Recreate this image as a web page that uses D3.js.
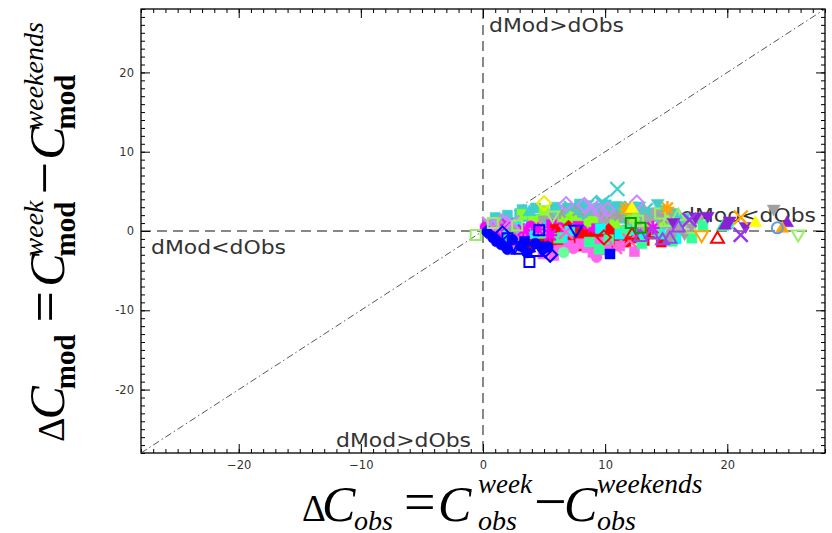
<!DOCTYPE html>
<html><head><meta charset="utf-8">
<script src="https://cdn.jsdelivr.net/npm/d3@7"></script>
<style>body{margin:0;background:#fff}svg{display:block}</style>
</head><body>
<svg id="c" width="832" height="533"></svg>
<script>
// ---------- data ----------
const axisDomain = [-28, 28];
const xTicksMajor = [-20, -10, 0, 10, 20];
const yTicksMajor = [-20, -10, 0, 10, 20];
const annotationTexts = ["dMod>dObs", "dMod<dObs", "dMod>dObs", "dMod<dObs"];

const turqSqObs = [0.5,1.6,2.7,3.5,4.6,5.4,6.2,7.1,8.0,8.9,9.7,10.5,11.4,12.3,13.2,14.0,15.0,4.0,6.7,9.2,3.0,7.6,11.9,1.0,2.2,5.0,13.5,2.0,3.2,4.3,5.9,6.9,8.4,9.4,10.1,11.0,12.8,14.6,15.6,16.5,7.9,10.9];
const turqSqMod = [0.8,1.3,1.1,1.8,1.5,2.0,1.4,2.2,1.7,2.4,1.9,2.6,1.6,2.1,1.3,1.8,1.0,0.9,1.0,1.2,2.2,2.6,2.8,1.7,0.5,1.1,2.3,2.0,2.7,2.9,3.0,2.9,3.2,2.9,3.3,3.1,2.9,2.6,2.2,1.6,3.4,2.2];
const grayObs = [4.5,5.8,6.9,7.7,8.6,9.4,10.2,11.1,12.0,12.9,13.7,14.6,15.4,9.0,11.5,10.6,8.1,13.2,16.0,5.2,6.1,7.3,8.8,10.0,11.8,13.0,14.1,15.0,12.5,9.6,7.0,16.8,17.6];
const grayMod = [1.2,0.9,1.7,1.1,2.0,1.4,1.0,1.8,1.3,0.7,1.5,0.6,-0.2,0.2,0.1,1.9,1.4,2.0,0.2,2.1,1.5,2.4,2.7,2.8,2.5,2.7,2.3,1.8,3.0,0.7,0.4,1.0,1.6];
const limeObs = [2.3,4.1,5.8,7.4,9.0,10.8,12.4,13.6,8.2,6.6,1.2,3.2,11.5,14.8,5.0];
const limeMod = [0.6,1.4,0.5,1.9,1.2,0.8,1.6,0.3,1.0,1.6,1.1,2.1,2.2,1.2,2.6];
const magCircObs = [1.6,2.6,3.9,5.1,6.3,7.2,8.1,9.8,11.0,12.4,0.6,4.5,6.9,2.2,3.4,5.6,7.8,8.9,10.5,0.2,1.0];
const magCircMod = [0.2,-0.5,0.6,-0.2,0.4,-0.7,0.1,-0.5,-1.1,-0.2,-0.2,-0.9,-0.3,-1.1,-0.2,-1.2,-1.2,-0.2,-1.5,0.5,-0.7];
const magAstObs = [0.4,1.2,2.0,4.5,5.5,13.9,3.3];
const magAstMod = [0.3,-0.4,0.8,0.2,-0.5,0.4,0.1];
const magSqObs = [7.8,9.3,5.6];
const magSqMod = [0.6,0.3,0.8];
const redSqObs = [2.6,3.4,4.7,5.5,6.6,7.4,8.2,9.3,10.5,11.7,12.5,5.9,7.8,9.0,4.1,6.2,8.7,10.0,13.2,3.0,3.8,5.1,6.0,7.0,8.0,9.8,11.0,12.0,13.8,14.6];
const redSqMod = [-0.4,-1.0,-0.7,-1.4,-0.9,-1.5,-0.5,-1.2,-0.7,-1.4,-0.9,0.2,-0.2,-1.7,-1.6,-1.9,-1.0,-1.5,-1.2,0.3,-2.1,-1.0,-1.2,-2.0,-1.9,-2.2,-1.8,-0.2,-0.4,-1.4];
const redDiaObs = [9.6,10.3,11.3,8.8,7.0];
const redDiaMod = [-0.3,0.1,-0.8,-0.9,0.5];
const redOpenTriObs = [19.2,12.2];
const redOpenTriMod = [-0.9,-0.4];
const redOpenDiaObs = [9.9];
const redOpenDiaMod = [-0.8];
const pinkCircObs = [9.3,5.9,7.4,3.1];
const pinkCircMod = [-3.3,-2.5,-2.2,-0.6];
const pinkSqObs = [7.0,8.5,9.5,6.4,8.0,11.2,4.9,5.8,9.0,10.1,12.4,2.3];
const pinkSqMod = [-1.8,-2.1,-1.4,-2.4,-1.6,-1.9,-2.9,-3.1,-2.7,-2.4,-2.6,-1.5];
const pinkXObs = [10.8,12.0,6.8,1.0];
const pinkXMod = [-2.0,-1.2,-0.1,0.5];
const blueCircObs = [1.1,1.5,2.4,3.1,4.3,0.8,2.0,3.6,5.3];
const blueCircMod = [-1.3,-1.7,-1.1,-1.9,-1.6,-0.8,-2.3,-2.7,-2.0];
const blueOpenTriObs = [3.7,4.3,2.9];
const blueOpenTriMod = [-2.0,-2.6,-2.3];
const blueOpenSqObs = [3.8,4.6,2.0];
const blueOpenSqMod = [-3.9,0.1,-0.9];
const blueOpenDiaObs = [5.5,5.1,1.6];
const blueOpenDiaMod = [-3.0,-2.4,-0.3];
const blueSqObs = [10.4,3.4];
const blueSqMod = [-2.9,-1.3];
const blueDiaObs = [4.9,0.3];
const blueDiaMod = [-2.1,-0.1];
const blueOpenTriDnObs = [7.6,2.6];
const blueOpenTriDnMod = [0.1,-2.0];
const cyanObs = [3.0,6.5,13.0,15.8,14.5,2.0,12.2,1.4,4.2,7.1,9.6,11.2,0.7];
const cyanMod = [0.4,-0.8,-0.9,-1.0,-0.4,-0.7,0.1,0.0,-0.3,0.0,0.3,-0.4,0.6];
const turqXObs = [11.0,8.5,9.8,7.2,13.3];
const turqXMod = [5.3,3.1,3.6,2.9,2.6];
const turqOpenDiaObs = [10.0,11.6,8.2,9.2];
const turqOpenDiaMod = [3.2,2.8,2.4,3.4];
const turqTriDnObs = [14.3,12.8,16.2,6.0,10.7];
const turqTriDnMod = [3.4,3.1,1.3,2.7,3.0];
const turqTriObs = [1.8,3.8];
const turqTriMod = [1.6,2.5];
const grayAstObs = [11.2,6.3,14.7,7.8,9.9];
const grayAstMod = [2.0,2.4,1.6,2.6,2.3];
const grayTriDnObs = [23.8,17.1,16.5];
const grayTriDnMod = [2.7,0.6,-0.4];
const grayDiaObs = [15.3,2.4];
const grayDiaMod = [-0.6,0.2];
const lgOpenSqObs = [-0.6,2.8,12.7,17.0,14.5,0.8];
const lgOpenSqMod = [-0.5,0.7,1.3,0.4,2.2,1.0];
const lgOpenTriDnObs = [25.8,5.7];
const lgOpenTriDnMod = [-0.5,1.9];
const lgOpenTriObs = [16.0,15.1];
const lgOpenTriMod = [2.0,1.2];
const sgSqObs = [20.1,17.1,14.2,8.7,4.8,11.7,6.2,18.0,10.3,13.0,15.5,9.5];
const sgSqMod = [0.9,-0.9,0.0,-1.4,-0.3,0.0,-0.9,0.7,-1.1,-1.6,-1.3,-2.3];
const sgTriObs = [19.6];
const sgTriMod = [0.6];
const sgCircObs = [6.6];
const sgCircMod = [-2.7];
const purTriDnObs = [18.4,21.5,15.6,20.2,17.4];
const purTriDnMod = [1.8,0.5,1.0,1.2,1.7];
const purTriObs = [24.9,19.8];
const purTriMod = [1.1,0.8];
const purXObs = [21.1,16.9];
const purXMod = [-0.5,1.4];
const purOpenTriObs = [14.7,13.8,16.0,12.9,15.3];
const purOpenTriMod = [-1.1,-0.3,0.5,-0.7,-0.9];
const orAstObs = [15.1,11.7];
const orAstMod = [2.9,2.8];
const orXObs = [21.1];
const orXMod = [1.7];
const orOpenTriDnObs = [17.9];
const orOpenTriDnMod = [-0.6];
const orTriObs = [24.5];
const orTriMod = [0.4];
const yelTriObs = [22.3,12.2];
const yelTriMod = [1.1,2.9];
const yelOpenDiaObs = [5.0];
const yelOpenDiaMod = [3.5];
const lbOpenCircObs = [24.1];
const lbOpenCircMod = [0.4];
const dgOpenSqObs = [12.1,12.9];
const dgOpenSqMod = [1.0,0.4];
const vioOpenDiaObs = [8.3,10.2,9.6,1.5,6.8,12.6];
const vioOpenDiaMod = [3.3,2.7,2.4,1.2,3.4,3.6];
const vioXObs = [8.9,0.5,2.4];
const vioXMod = [3.0,0.9,1.1];

// ---------- series table (data + style) ----------
const series = [
  {obs: turqSqObs, mod: turqSqMod, color: "#3fcfcf", shape: "square", fill: true},
  {obs: grayObs, mod: grayMod, color: "#a6a6a6", shape: "circle", fill: true},
  {obs: limeObs, mod: limeMod, color: "#88ff22", shape: "square", fill: true},
  {obs: turqTriObs, mod: turqTriMod, color: "#3fcfcf", shape: "tri", fill: true},
  {obs: magCircObs, mod: magCircMod, color: "#ff00ff", shape: "circle", fill: true},
  {obs: magSqObs, mod: magSqMod, color: "#ff00ff", shape: "square", fill: true},
  {obs: redSqObs, mod: redSqMod, color: "#ff0000", shape: "square", fill: true},
  {obs: redDiaObs, mod: redDiaMod, color: "#ff0000", shape: "diamond", fill: true},
  {obs: pinkSqObs, mod: pinkSqMod, color: "#ff66ee", shape: "square", fill: true},
  {obs: pinkCircObs, mod: pinkCircMod, color: "#ff66ee", shape: "circle", fill: true},
  {obs: cyanObs, mod: cyanMod, color: "#00ffff", shape: "square", fill: true},
  {obs: sgSqObs, mod: sgSqMod, color: "#33ff99", shape: "square", fill: true},
  {obs: sgTriObs, mod: sgTriMod, color: "#33ff99", shape: "tri", fill: true},
  {obs: sgCircObs, mod: sgCircMod, color: "#66ff99", shape: "circle", fill: true},
  {obs: magAstObs, mod: magAstMod, color: "#ff00ff", shape: "ast", fill: false},
  {obs: pinkXObs, mod: pinkXMod, color: "#ff66cc", shape: "x", fill: false},
  {obs: grayAstObs, mod: grayAstMod, color: "#a0a0a0", shape: "ast", fill: false},
  {obs: grayTriDnObs, mod: grayTriDnMod, color: "#a0a0a0", shape: "triDn", fill: true},
  {obs: grayDiaObs, mod: grayDiaMod, color: "#a0a0a0", shape: "diamond", fill: true},
  {obs: turqXObs, mod: turqXMod, color: "#3fcfcf", shape: "x", fill: false},
  {obs: turqOpenDiaObs, mod: turqOpenDiaMod, color: "#3fcfcf", shape: "diamond", fill: false},
  {obs: turqTriDnObs, mod: turqTriDnMod, color: "#3fcfcf", shape: "triDn", fill: true},
  {obs: vioOpenDiaObs, mod: vioOpenDiaMod, color: "#cc88ff", shape: "diamond", fill: false},
  {obs: vioXObs, mod: vioXMod, color: "#cc88ff", shape: "x", fill: false},
  {obs: blueCircObs, mod: blueCircMod, color: "#0000ff", shape: "circle", fill: true},
  {obs: blueSqObs, mod: blueSqMod, color: "#0000ff", shape: "square", fill: true},
  {obs: blueDiaObs, mod: blueDiaMod, color: "#0000ff", shape: "diamond", fill: true},
  {obs: blueOpenTriObs, mod: blueOpenTriMod, color: "#0000ff", shape: "tri", fill: false},
  {obs: blueOpenSqObs, mod: blueOpenSqMod, color: "#0000ff", shape: "square", fill: false},
  {obs: blueOpenDiaObs, mod: blueOpenDiaMod, color: "#0000ff", shape: "diamond", fill: false},
  {obs: blueOpenTriDnObs, mod: blueOpenTriDnMod, color: "#0000ff", shape: "triDn", fill: false},
  {obs: redOpenTriObs, mod: redOpenTriMod, color: "#ff0000", shape: "tri", fill: false},
  {obs: redOpenDiaObs, mod: redOpenDiaMod, color: "#ff0000", shape: "diamond", fill: false},
  {obs: lgOpenSqObs, mod: lgOpenSqMod, color: "#99ee66", shape: "square", fill: false},
  {obs: lgOpenTriDnObs, mod: lgOpenTriDnMod, color: "#99ee66", shape: "triDn", fill: false},
  {obs: lgOpenTriObs, mod: lgOpenTriMod, color: "#99ee66", shape: "tri", fill: false},
  {obs: purTriDnObs, mod: purTriDnMod, color: "#8a1fd8", shape: "triDn", fill: true},
  {obs: purTriObs, mod: purTriMod, color: "#8a1fd8", shape: "tri", fill: true},
  {obs: purXObs, mod: purXMod, color: "#9933ee", shape: "x", fill: false},
  {obs: purOpenTriObs, mod: purOpenTriMod, color: "#9944ee", shape: "tri", fill: false},
  {obs: orAstObs, mod: orAstMod, color: "#ffa500", shape: "ast", fill: false},
  {obs: orXObs, mod: orXMod, color: "#ffa500", shape: "x", fill: false},
  {obs: orOpenTriDnObs, mod: orOpenTriDnMod, color: "#ffa500", shape: "triDn", fill: false},
  {obs: orTriObs, mod: orTriMod, color: "#ffa500", shape: "tri", fill: true},
  {obs: yelTriObs, mod: yelTriMod, color: "#ffff00", shape: "tri", fill: true},
  {obs: yelOpenDiaObs, mod: yelOpenDiaMod, color: "#eeee00", shape: "diamond", fill: false},
  {obs: lbOpenCircObs, mod: lbOpenCircMod, color: "#6699dd", shape: "circle", fill: false},
  {obs: dgOpenSqObs, mod: dgOpenSqMod, color: "#00a000", shape: "square", fill: false}
];

// ---------- drawing ----------
const svg = d3.select("#c");
const x = d3.scaleLinear().domain(axisDomain).range([141, 825]);
const y = d3.scaleLinear().domain(axisDomain).range([453, 9]);
const minorTicks = d3.range(axisDomain[0], axisDomain[1] + 1);
const tickFont = "'DejaVu Sans', 'Liberation Sans', sans-serif";

function styleAxis(g) {
  g.select(".domain").remove();
  g.selectAll(".tick line").attr("stroke", "#000").attr("stroke-width", 1);
  g.selectAll(".tick text").attr("font-family", tickFont).attr("font-size", 11.5).attr("fill", "#333");
}
svg.append("g").attr("transform", `translate(0,${y(axisDomain[0])})`)
  .call(d3.axisBottom(x).tickValues(minorTicks).tickSize(-4).tickFormat("")).call(styleAxis);
svg.append("g").attr("transform", `translate(0,${y(axisDomain[1])})`)
  .call(d3.axisTop(x).tickValues(minorTicks).tickSize(-4).tickFormat("")).call(styleAxis);
svg.append("g").attr("transform", `translate(${x(axisDomain[0])},0)`)
  .call(d3.axisLeft(y).tickValues(minorTicks).tickSize(-4).tickFormat("")).call(styleAxis);
svg.append("g").attr("transform", `translate(${x(axisDomain[1])},0)`)
  .call(d3.axisRight(y).tickValues(minorTicks).tickSize(-4).tickFormat("")).call(styleAxis);
svg.append("g").attr("transform", `translate(0,${y(axisDomain[0])})`)
  .call(d3.axisBottom(x).tickValues(xTicksMajor).tickSize(-9).tickPadding(8)).call(styleAxis);
svg.append("g").attr("transform", `translate(0,${y(axisDomain[1])})`)
  .call(d3.axisTop(x).tickValues(xTicksMajor).tickSize(-9).tickFormat("")).call(styleAxis);
svg.append("g").attr("transform", `translate(${x(axisDomain[0])},0)`)
  .call(d3.axisLeft(y).tickValues(yTicksMajor).tickSize(-9).tickPadding(7).tickFormat(d => String(d))).call(styleAxis);
svg.append("g").attr("transform", `translate(${x(axisDomain[1])},0)`)
  .call(d3.axisRight(y).tickValues(yTicksMajor).tickSize(-9).tickFormat("")).call(styleAxis);

svg.append("rect").attr("x", x(axisDomain[0])).attr("y", y(axisDomain[1]))
  .attr("width", x(axisDomain[1]) - x(axisDomain[0])).attr("height", y(axisDomain[0]) - y(axisDomain[1]))
  .attr("fill", "none").attr("stroke", "#000").attr("stroke-width", 1.3);

svg.append("line").attr("x1", x(0)).attr("x2", x(0)).attr("y1", y(axisDomain[1])).attr("y2", y(axisDomain[0]))
  .attr("stroke", "#111").attr("stroke-width", 1).attr("stroke-dasharray", "10,6");
svg.append("line").attr("x1", x(axisDomain[0])).attr("x2", x(axisDomain[1])).attr("y1", y(0)).attr("y2", y(0))
  .attr("stroke", "#111").attr("stroke-width", 1).attr("stroke-dasharray", "10,6");
svg.append("line").attr("x1", x(axisDomain[0])).attr("y1", y(axisDomain[0])).attr("x2", x(axisDomain[1])).attr("y2", y(axisDomain[1]))
  .attr("stroke", "#444").attr("stroke-width", 0.9).attr("stroke-dasharray", "7,3,1.5,3");

// annotations
const annPos = [[489, 32], [151, 254], [336, 447], [681, 222]];
annotationTexts.forEach((t, i) => {
  svg.append("text").attr("x", annPos[i][0]).attr("y", annPos[i][1])
    .attr("font-family", tickFont).attr("font-size", 20)
    .attr("fill", "#333").attr("textLength", 135).attr("lengthAdjust", "spacingAndGlyphs").text(t);
});

// markers
function shapePath(shape) {
  switch (shape) {
    case "square": return "M-5,-5H5V5H-5Z";
    case "tri": return "M0,-6.5L6.5,4.5L-6.5,4.5Z";
    case "triDn": return "M0,6.5L6.5,-4.5L-6.5,-4.5Z";
    case "diamond": return "M0,-7L7,0L0,7L-7,0Z";
    case "x": return "M-7,-7L7,7M-7,7L7,-7";
    case "ast": return "M-5.5,-5.5L5.5,5.5M-5.5,5.5L5.5,-5.5M0,-7V7M-7,0H7";
    case "circle": return d3.arc()({innerRadius: 0, outerRadius: 5.5, startAngle: 0, endAngle: 2 * Math.PI});
  }
}
const markerG = svg.append("g");
series.forEach(s => {
  const pts = s.obs.map((v, i) => [v, s.mod[i]]);
  const lineShape = s.shape === "x" || s.shape === "ast";
  markerG.append("g").selectAll("path").data(pts).join("path")
    .attr("transform", d => `translate(${x(d[0])},${y(d[1])})`)
    .attr("d", shapePath(s.shape))
    .attr("fill", s.fill ? s.color : "none")
    .attr("stroke", s.color)
    .attr("stroke-width", lineShape ? 2.4 : (s.fill ? 0.5 : 2));
});

// axis titles
const serif = "'Liberation Serif', 'Times New Roman', serif";
function put(g, t, px, py, size, italic, bold) {
  return g.append("text").attr("x", px).attr("y", py).attr("font-size", size)
    .attr("font-style", italic ? "italic" : "normal")
    .attr("font-weight", bold ? "bold" : "normal").text(t);
}
const xt = svg.append("g").attr("font-family", serif).attr("fill", "#000");
put(xt, "Δ", 302, 521, 37);
put(xt, "C", 322, 521, 50, true);
put(xt, "obs", 354, 530, 28, true);
put(xt, "=", 404, 521, 56);
put(xt, "C", 438, 521, 50, true);
put(xt, "week", 478, 493, 27, true);
put(xt, "obs", 478, 530, 28, true);
put(xt, "−", 534, 521, 58);
put(xt, "C", 564, 521, 50, true);
put(xt, "weekends", 597, 493, 27.5, true);
put(xt, "obs", 597, 530, 28, true);

// y title, rotated; flow layout along the text direction
const yt = svg.append("g").attr("font-family", serif).attr("fill", "#000")
  .attr("transform", "translate(64,0) rotate(-90)");
let u = -442;
function flow(t, size, italic, dy, bold) {
  const el = put(yt, t, u, dy, size, italic, bold);
  return el.node().getComputedTextLength();
}
function adv(w, gap) { u += w + (gap || 0); }
adv(flow("Δ", 38, false, 0), -2);
adv(flow("C", 50, true, 0), -3);
adv(flow("mod", 29, false, 11, true), 12);
adv(flow("=", 56, false, 0), 4);
adv(flow("C", 50, true, 0), -3);
adv(Math.max(flow("week", 28, true, -21), flow("mod", 29, false, 11, true)), 6);
adv(flow("−", 58, false, 0), 2);
adv(flow("C", 50, true, 0), -3);
flow("weekends", 28, true, -21); flow("mod", 29, false, 11, true);
</script>
</body></html>
